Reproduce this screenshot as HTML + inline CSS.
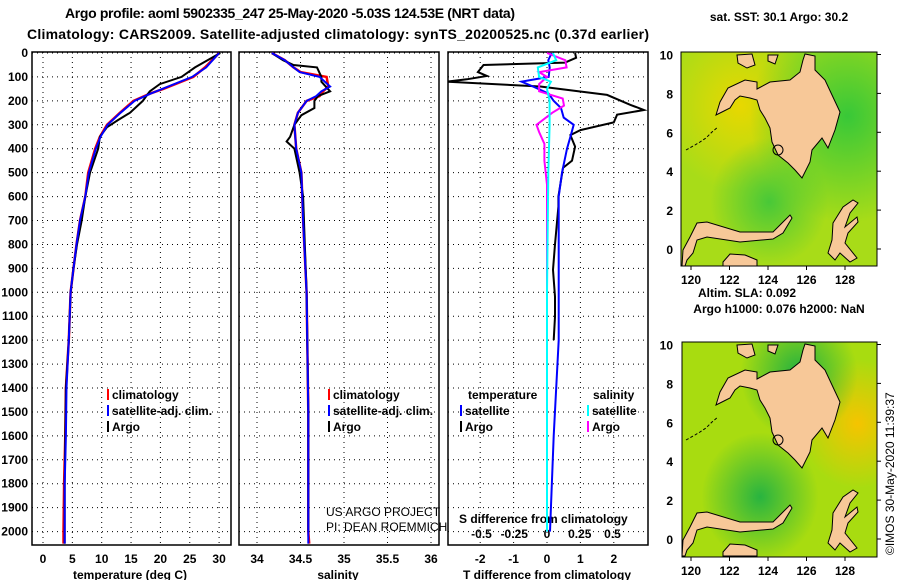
<!DOCTYPE html>
<html><head><meta charset="utf-8"><style>
body{margin:0;background:#fff;}
svg{display:block;font-family:"Liberation Sans",sans-serif;}
.b{font-weight:bold;font-size:12px;}
</style></head><body>
<svg id="c" width="900" height="580" viewBox="0 0 900 580">
<defs>
<clipPath id="cp1"><rect x="32" y="52" width="199" height="493"/></clipPath>
<clipPath id="cp2"><rect x="239" y="52" width="200" height="493"/></clipPath>
<clipPath id="cp3"><rect x="448" y="52" width="200" height="493"/></clipPath>
<clipPath id="cm1"><rect x="681" y="52" width="196" height="214"/></clipPath>
<clipPath id="cm2"><rect x="682" y="342" width="195" height="215"/></clipPath>
<radialGradient id="g1a" cx="0.3" cy="0.25" r="0.4"><stop offset="0" stop-color="#e8d800"/><stop offset="1" stop-color="#e8d800" stop-opacity="0"/></radialGradient>
<radialGradient id="g1b" cx="0.85" cy="0.3" r="0.5"><stop offset="0" stop-color="#38c838"/><stop offset="1" stop-color="#38c838" stop-opacity="0"/></radialGradient>
<radialGradient id="g1c" cx="0.45" cy="0.7" r="0.3"><stop offset="0" stop-color="#48c838"/><stop offset="1" stop-color="#48c838" stop-opacity="0"/></radialGradient>
<radialGradient id="g2a" cx="0.9" cy="0.38" r="0.3"><stop offset="0" stop-color="#f5c400"/><stop offset="1" stop-color="#f5c400" stop-opacity="0"/></radialGradient>
<radialGradient id="g2b" cx="0.4" cy="0.72" r="0.3"><stop offset="0" stop-color="#28b440"/><stop offset="1" stop-color="#28b440" stop-opacity="0"/></radialGradient>
<radialGradient id="g2c" cx="0.6" cy="0.15" r="0.3"><stop offset="0" stop-color="#20b040"/><stop offset="1" stop-color="#20b040" stop-opacity="0"/></radialGradient>
<g id="land">
<path d="M757,89 L770,82 790,80 800,72 803,60 805,54 815,56 815,70 825,80 832,95 840,112 835,130 828,148 822,138 812,150 810,162 802,178 795,170 788,163 778,155 772,142 770,128 765,118 760,110 757,100 750,98 740,96 735,100 730,108 722,112 716,115 720,102 728,88 745,80 757,82Z" fill="#f7c898" stroke="#000" stroke-width="1"/>
<path d="M690,237 L697,223 707,222 740,232 773,232 783,222 790,215 792,218 783,233 773,239 740,242 707,237 697,240 693,253 687,260 685,266 682,266 683,250Z" fill="#f7c898" stroke="#000" stroke-width="1"/>
<path d="M723,262 L730,254 745,255 757,260 757,266 723,266Z" fill="#f7c898" stroke="#000" stroke-width="1"/>
<path d="M833,223 L843,207 853,200 858,203 850,213 845,227 857,217 858,222 848,233 845,243 857,258 850,262 840,253 835,260 828,253 832,240Z" fill="#f7c898" stroke="#000" stroke-width="1"/>
<path d="M737,55 L752,54 755,65 747,68 738,63Z" fill="#f7c898" stroke="#000" stroke-width="1"/>
<path d="M768,55 L778,55 775,64 768,61Z" fill="#f7c898" stroke="#000" stroke-width="1"/>
<path d="M686,150 L695,145 700,142 706,138 712,132 718,127" fill="none" stroke="#000" stroke-width="1" stroke-dasharray="3,2"/>
</g>
</defs>
<rect width="900" height="580" fill="#fff"/>
<g>
<text x="290" y="18" font-size="14" font-weight="bold" text-anchor="middle" textLength="450">Argo profile: aoml 5902335_247 25-May-2020 -5.03S 124.53E (NRT data)</text>
<text x="27" y="39" font-size="14" font-weight="bold" textLength="622">Climatology: CARS2009. Satellite-adjusted climatology: synTS_20200525.nc (0.37d earlier)</text>
</g>
<g id="axes"></g>
<g id="series"></g>

<g>
<text x="779" y="21" class="b" text-anchor="middle">sat. SST: 30.1 Argo: 30.2</text>
<g clip-path="url(#cm1)">
<rect x="681" y="52" width="196" height="214" fill="#a8dc18"/>
<rect x="681" y="52" width="196" height="214" fill="url(#g1a)"/>
<rect x="681" y="52" width="196" height="214" fill="url(#g1b)"/>
<rect x="681" y="52" width="196" height="214" fill="url(#g1c)"/>
<use href="#land"/>
<circle cx="778" cy="150" r="5" fill="none" stroke="#000"/>
</g>
<rect x="681" y="52" width="196" height="214" fill="none" stroke="#000"/>
</g>
<g>
<text x="747" y="297" class="b" text-anchor="middle">Altim. SLA: 0.092</text>
<text x="779" y="313" class="b" text-anchor="middle">Argo h1000: 0.076 h2000: NaN</text>
<g clip-path="url(#cm2)">
<rect x="682" y="342" width="195" height="215" fill="#a8dc10"/>
<rect x="682" y="342" width="195" height="215" fill="url(#g2a)"/>
<rect x="682" y="342" width="195" height="215" fill="url(#g2b)"/>
<rect x="682" y="342" width="195" height="215" fill="url(#g2c)"/>
<use href="#land" transform="translate(0,290)"/>
<circle cx="778" cy="440" r="5" fill="none" stroke="#000"/>
</g>
<rect x="682" y="342" width="195" height="215" fill="none" stroke="#000"/>
</g>
<text transform="translate(894,555) rotate(-90)" font-size="12">©IMOS 30-May-2020 11:39:37</text>
<text x="326" y="516" font-size="12">US ARGO PROJECT</text>
<text x="326" y="531" font-size="12">PI: DEAN ROEMMICH</text>
</svg>
<script>
// ---- data ----
const depthTicks=[0,100,200,300,400,500,600,700,800,900,1000,1100,1200,1300,1400,1500,1600,1700,1800,1900,2000];
const tempTicks=[0,5,10,15,20,25,30];
const salTicks=[34,34.5,35,35.5,36];
const tdTicks=[-2,-1,0,1,2];
const sdTicks=[-0.5,-0.25,0,0.25,0.5];
const sdTickLabels=['-0.5','-0.25','0','0.25','0.5'];
const latTicks=[0,2,4,6,8,10];
const lonTicks=[120,122,124,126,128];

const argoTD=[0,60,100,130,160,200,250,280,310,350,400,500,600,700,800,900,1000,1200,1400,1600,1800,2000,2050];
const argoT=[30.2,25.9,23.6,19.9,18.2,17,14.8,12.8,10.9,9.7,9.4,8,7.2,6.6,5.8,5.2,4.7,4.4,3.9,3.8,3.7,3.7,3.7];
const climD=[0,60,100,150,170,200,250,300,350,400,500,600,700,800,900,1000,1200,1400,1600,1800,2000,2050];
const climT=[30,27.6,25.6,20.5,18.2,15.4,13.1,10.9,9.7,8.9,7.7,7.2,6.3,5.7,5.2,4.7,4.4,3.9,3.8,3.6,3.5,3.5];
const satT=[30,27.8,25.4,20.3,18.3,15.6,13.2,11,9.8,9,7.8,7.2,6.3,5.7,5.2,4.7,4.4,4.0,3.9,3.7,3.7,3.7];

const argoSD=[0,30,50,60,100,120,160,180,200,230,260,300,350,370,400,500,600,800,1000,1500,2000];
const argoS=[34.17,34.30,34.42,34.69,34.74,34.74,34.84,34.70,34.66,34.66,34.51,34.43,34.38,34.34,34.43,34.49,34.53,34.55,34.57,34.59,34.59];
const salD=[0,30,60,80,100,140,160,180,200,250,300,400,500,700,1000,1500,2000,2050];
const climS=[34.17,34.32,34.42,34.50,34.80,34.82,34.76,34.72,34.57,34.47,34.43,34.45,34.51,34.53,34.57,34.59,34.59,34.60];
const satS=[34.17,34.32,34.42,34.49,34.72,34.84,34.74,34.68,34.57,34.47,34.43,34.45,34.51,34.53,34.57,34.59,34.59,34.59];

const dArgoD=[0,20,40,50,80,96,110,120,140,175,217,238,258,290,322,343,391,450,480,600,642,800,906,1018,1102,1200];
const dArgoT=[0.84,0.87,0.54,-1.9,-2.07,-1.8,-2.4,-3.0,-0.2,1.8,2.5,2.9,2.1,2.0,1.0,0.7,0.84,0.75,0.48,0.34,0.34,0.24,0.18,0.24,0.24,0.2];
const dSatD=[0,30,60,100,120,140,170,200,230,270,300,350,400,500,600,1000,1200,1600,2000];
const dSatT=[0.14,0.04,0.08,0.05,-0.76,-0.42,0.05,0.2,0.42,0.5,0.8,0.7,0.6,0.45,0.35,0.35,0.35,0.2,0.09];
const dSD=[0,30,60,100,120,150,200,300,500,1000,2000];
const dSatS=[0.045,0.07,-0.07,-0.06,0.03,0.0,0.02,0.02,0.01,0.0,0.0];
const dArgoSD=[0,30,60,80,100,130,160,190,220,250,300,330,380,450,550,700,2000];
const dArgoS=[0,0.14,0.15,-0.06,0.0,-0.06,-0.06,0.12,0.13,0.04,-0.08,-0.06,-0.02,-0.02,0.0,0.0,0.0];

// ---- scales ----
const yD=d=>53+d*0.2393;
const xT=t=>43+t*5.87;
const xS=s=>257+(s-34)*87;
const xTD=t=>547+t*33.4;
const xSD=s=>547+s*131;
const ns='http://www.w3.org/2000/svg';
const axes=document.getElementById('axes'), series=document.getElementById('series');
function mk(tag,at,parent){const e=document.createElementNS(ns,tag);for(const k in at)e.setAttribute(k,at[k]);(parent||axes).appendChild(e);return e;}

const panels=[{x0:32,x1:231,clip:'cp1',name:'temperature-panel'},{x0:239,x1:439,clip:'cp2',name:'salinity-panel'},{x0:448,x1:648,clip:'cp3',name:'difference-panel'}];
const vgrid=[tempTicks.map(xT),salTicks.map(xS),tdTicks.map(xTD)];
panels.forEach((p,i)=>{
  const g=mk('g',{});
  
  
  depthTicks.forEach(d=>{const l=mk('line',{x1:p.x0,x2:p.x1,y1:yD(d),y2:yD(d),stroke:'#000','stroke-dasharray':'1,4'},g);
    
    });
  vgrid[i].forEach(x=>{const l=mk('line',{x1:x,x2:x,y1:52,y2:545,stroke:'#000','stroke-dasharray':'1,4'},g);
    
    });
  const r=mk('rect',{x:p.x0,y:52,width:p.x1-p.x0,height:493,fill:'none',stroke:'#000','stroke-width':1.5},g);
  
  
});
depthTicks.forEach(d=>{const t=mk('text',{x:28,y:yD(d)+4,'text-anchor':'end',class:'b'});t.textContent=d;
  
  });
tempTicks.forEach(v=>{const t=mk('text',{x:xT(v),y:563,'text-anchor':'middle',class:'b'});t.textContent=v;
  
  });
salTicks.forEach(v=>{const t=mk('text',{x:xS(v),y:563,'text-anchor':'middle',class:'b'});t.textContent=v;
  
  });
tdTicks.forEach(v=>{const t=mk('text',{x:xTD(v),y:563,'text-anchor':'middle',class:'b'});t.textContent=v;
  
  });
sdTicks.forEach((v,i)=>{const t=mk('text',{x:xSD(v),y:538,'text-anchor':'middle',class:'b'});t.textContent=sdTickLabels[i];
  
  });
[['temperature (deg C)',130,'temperature-axis-title'],['salinity',338,'salinity-axis-title'],['T difference from climatology',547,'t-diff-axis-title']].forEach(a=>{
  const t=mk('text',{x:a[1],y:579,'text-anchor':'middle',class:'b'});t.textContent=a[0];
  
  });
{const t=mk('text',{x:459,y:523,class:'b'});t.textContent='S difference from climatology';
  
  }

// map ticks
[[249,52,266,'sst'],[539,342,557,'sla']].forEach(m=>{
  latTicks.forEach(v=>{const y=m[0]-v*19.45;
    const t=mk('text',{x:673,y:y+5,'text-anchor':'end',class:'b'});t.textContent=v;
    
    
    mk('line',{x1:877,x2:881,y1:y,y2:y,stroke:'#000'});});
  lonTicks.forEach(v=>{const x=691+(v-120)*19.25;
    const t=mk('text',{x:x,y:m[2]+18,'text-anchor':'middle',class:'b'});t.textContent=v;
    
    
    mk('line',{x1:x,x2:x,y1:m[2],y2:m[2]+4,stroke:'#000'});});
});

function line(xs,ds,fx,color,clip,name,w){
  const pts=xs.map((v,i)=>fx(v).toFixed(1)+','+yD(ds[i]).toFixed(1)).join(' ');
  const p=mk('polyline',{points:pts,fill:'none',stroke:color,'stroke-width':w||2,'clip-path':'url(#'+clip+')'},series);
  
  
}
line(climT,climD,xT,'#f00','cp1','temperature-climatology-line',2.5);
line(argoT,argoTD,xT,'#000','cp1','temperature-argo-line');
line(satT,climD,xT,'#00f','cp1','temperature-satellite-line');
line(climS,salD,xS,'#f00','cp2','salinity-climatology-line',2.5);
line(argoS,argoSD,xS,'#000','cp2','salinity-argo-line');
line(satS,salD,xS,'#00f','cp2','salinity-satellite-line');
line(dArgoT,dArgoD,xTD,'#000','cp3','t-diff-argo-line');
line(dSatT,dSatD,xTD,'#00f','cp3','t-diff-satellite-line');
line(dArgoS,dArgoSD,xSD,'#f0f','cp3','s-diff-argo-line');
line(dSatS,dSD,xSD,'#0ff','cp3','s-diff-satellite-line');

// legends
function leg(x,y,color,label,name){
  const r=mk('rect',{x:x,y:y-10,width:2,height:11,fill:color});
  
  
  const t=mk('text',{x:x+5,y:y,class:'b'});t.textContent=label;
  
  
}
[[107,'t'],[328,'s']].forEach(a=>{
  leg(a[0],399,'#f00','climatology','legend-climatology-'+a[1]);
  leg(a[0],415,'#00f','satellite-adj. clim.','legend-satellite-'+a[1]);
  leg(a[0],431,'#000','Argo','legend-argo-'+a[1]);
});
{const t=mk('text',{x:468,y:399,class:'b'});t.textContent='temperature';
 
 
 const u=mk('text',{x:593,y:399,class:'b'});u.textContent='salinity';
 
 }
leg(460,415,'#00f','satellite','legend-t-satellite');
leg(460,431,'#000','Argo','legend-t-argo');
leg(587,415,'#0ff','satellite','legend-s-satellite');
leg(587,431,'#f0f','Argo','legend-s-argo');
</script>
</body></html>
